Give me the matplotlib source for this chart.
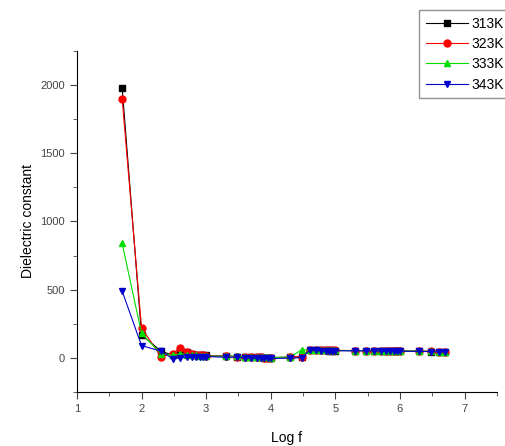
import matplotlib.pyplot as plt
from matplotlib.ticker import MultipleLocator

plt.rcParams['font.family'] = ['Liberation Sans', 'DejaVu Sans']

# log10 of the measuring frequency (50 Hz .. 5 MHz)
log_f = [1.7, 2.0, 2.3, 2.48, 2.6, 2.7, 2.78, 2.85, 2.9, 2.95, 3.0,
         3.3, 3.48, 3.6, 3.7, 3.78, 3.85, 3.9, 3.95, 4.0,
         4.3, 4.48, 4.6, 4.7, 4.78, 4.85, 4.9, 4.95, 5.0,
         5.3, 5.48, 5.6, 5.7, 5.78, 5.85, 5.9, 5.95, 6.0,
         6.3, 6.48, 6.6, 6.7]

eps_313 = [1980, 170, 50, 20, 40, 45, 30, 25, 22, 20, 18,
           12, 10, 8, 6, 5, 4, 3, 3, 2,
           5, 10, 56, 56, 55, 55, 54, 54, 54,
           53, 53, 52, 52, 51, 51, 51, 50, 50,
           49, 47, 46, 45]
eps_323 = [1900, 220, 10, 30, 75, 40, 28, 24, 20, 18, 16,
           12, 10, 8, 6, 5, 4, 3, 3, 2,
           5, 10, 58, 57, 57, 56, 56, 55, 55,
           54, 54, 53, 53, 52, 52, 52, 51, 51,
           50, 48, 47, 46]
eps_333 = [840, 180, 30, 20, 30, 25, 20, 18, 16, 15, 14,
           12, 15, 10, 8, 6, 5, 4, 4, 3,
           6, 60, 57, 57, 56, 56, 55, 55, 55,
           54, 54, 53, 53, 52, 52, 52, 51, 51,
           50, 48, 47, 46]
eps_343 = [490, 90, 50, -5, 0, 5, 8, 10, 10, 10, 10,
           5, 5, 0, -2, -3, -3, -4, -4, -4,
           -2, 2, 55, 55, 54, 54, 54, 53, 53,
           52, 52, 51, 51, 50, 50, 50, 49, 49,
           48, 46, 45, 44]

series = [
    ("313K", eps_313, "black", "s"),
    ("323K", eps_323, "red", "o"),
    ("333K", eps_333, "#00dd00", "^"),
    ("343K", eps_343, "#0000cc", "v"),
]

fig = plt.figure(figsize=(5.06, 4.46), dpi=100)
ax = fig.add_axes([0.152, 0.121, 0.830, 0.765])

for name, vals, col, mk in series:
    ax.plot(log_f, vals, color=col, marker=mk, markersize=5, linewidth=0.8,
            label=name)

ax.set_xlim(1, 7.5)
ax.set_ylim(-250, 2250)
ax.xaxis.set_major_locator(MultipleLocator(1))
ax.xaxis.set_minor_locator(MultipleLocator(0.5))
ax.yaxis.set_major_locator(MultipleLocator(500))
ax.yaxis.set_minor_locator(MultipleLocator(250))
ax.set_yticks([0, 500, 1000, 1500, 2000])
ax.tick_params(which='both', direction='out', labelsize=8, colors='#444444')
ax.tick_params(which='major', length=5)
ax.tick_params(which='minor', length=3)

for s in ('top', 'right'):
    ax.spines[s].set_visible(False)

ax.set_xlabel("Log f", fontsize=10, labelpad=12)
ax.set_ylabel("Dielectric constant", fontsize=10)

fig.legend(loc='upper right', bbox_to_anchor=(1.01, 0.978), fontsize=10,
           frameon=True, fancybox=False, edgecolor='#777777',
           handlelength=3.0, borderpad=0.5, labelspacing=0.45,
           handletextpad=0.25, borderaxespad=0)

fig.savefig("out.png", dpi=100)
